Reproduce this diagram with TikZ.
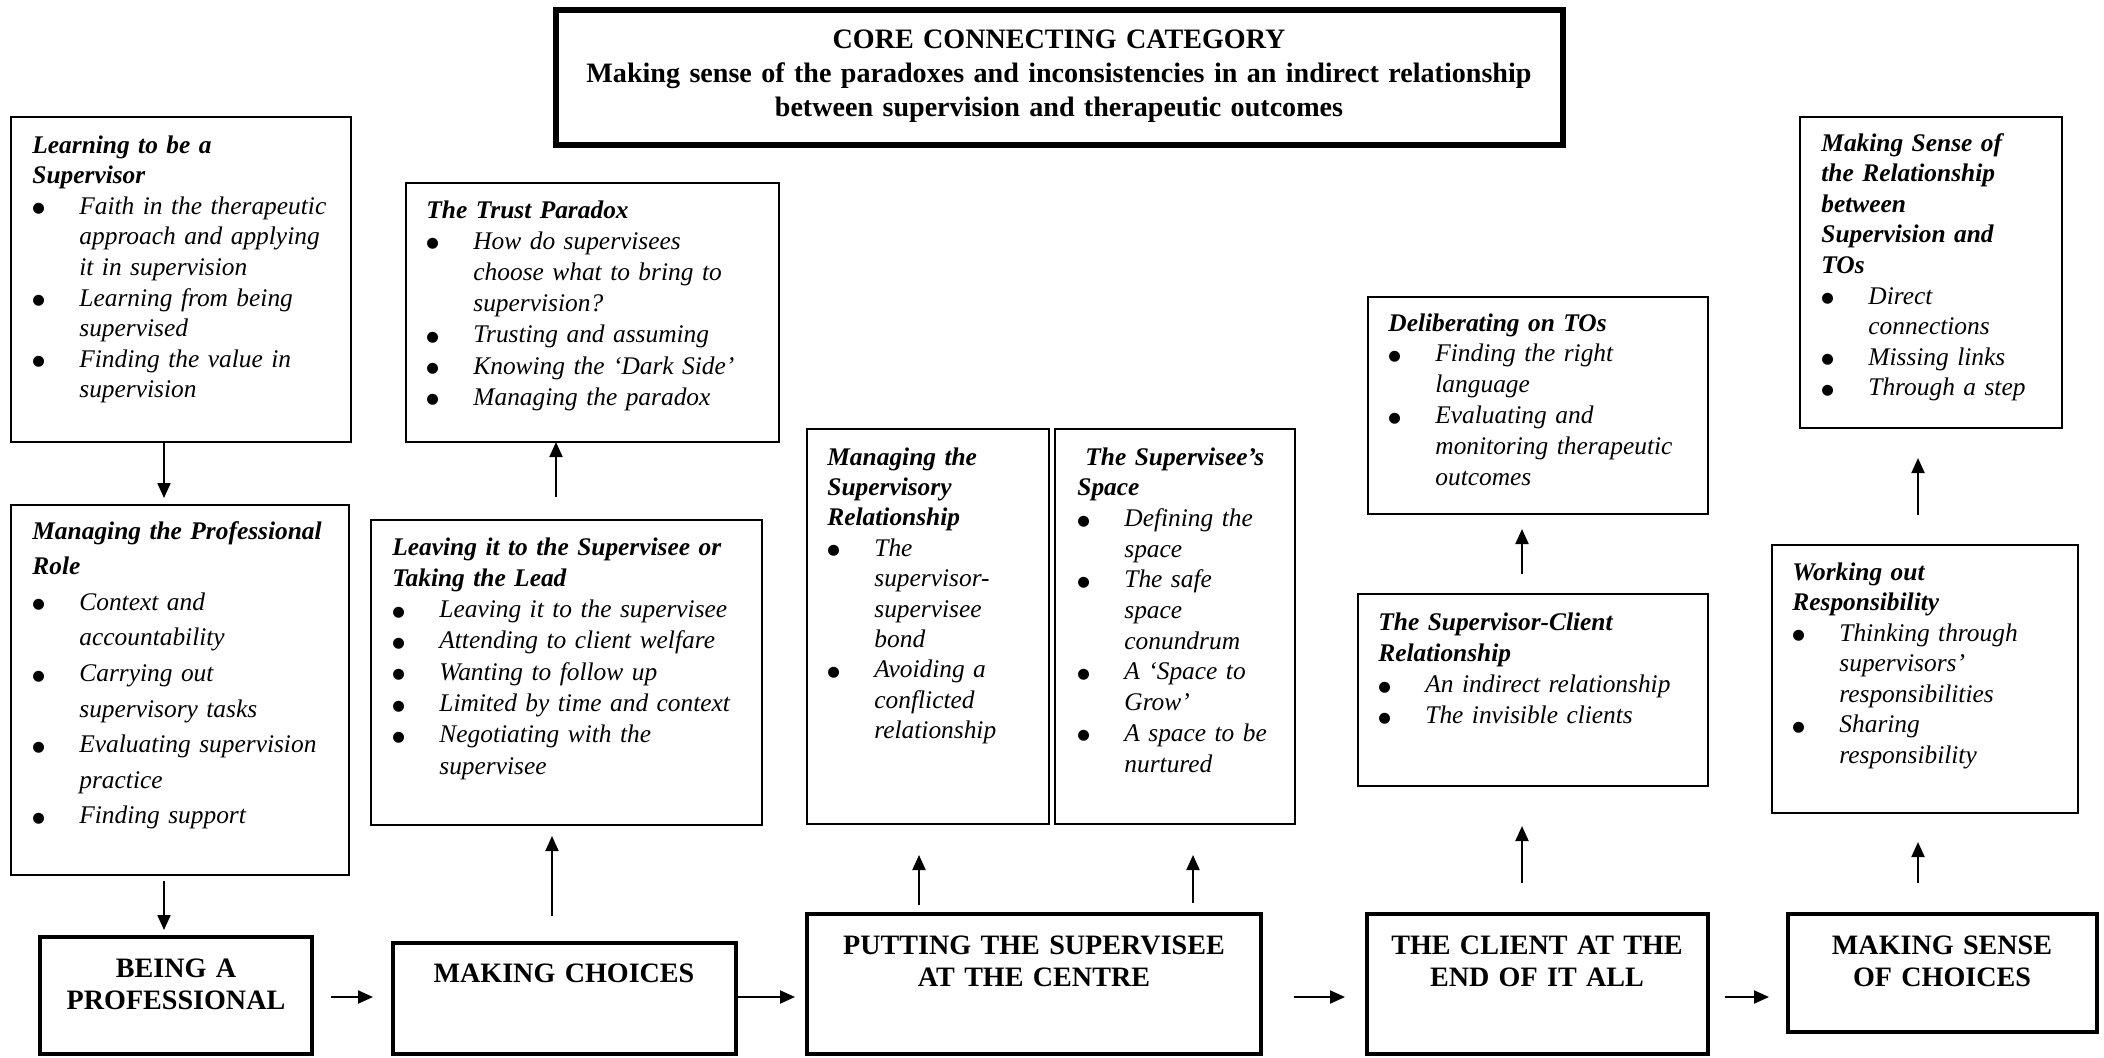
\documentclass[tikz,border=0pt]{standalone}
\usepackage{fontspec}
\setmainfont{Liberation Serif}
\newfontfamily\dotfont{DejaVu Sans}
\usetikzlibrary{arrows.meta}

% bullet and continuation indents for list lines
\newcommand\bl{\makebox[23.5pt][l]{\raisebox{0.7pt}{\dotfont\upshape\fontsize{7.2}{8}\selectfont ●}}}
\newcommand\cl{\hspace*{23.5pt}}
\newcommand\hd[1]{\textbf{#1}}
% box node from corner coordinates (in px units)
\newcommand\mybox[6]{%
  \node[#6, minimum width={(#4-#2)*0.5pt}, minimum height={(#5-#3)*0.5pt}]
    (#1) at ({(#2+#4)/2},{(#3+#5)/2}) {};}

\begin{document}
\begin{tikzpicture}[x=0.5pt,y=-0.5pt,
  thinbox/.style={draw, line width=0.8pt, rectangle, inner sep=0pt, outer sep=0pt},
  thickbox/.style={draw, line width=1.9pt, rectangle, inner sep=0pt, outer sep=0pt},
  corebox/.style={draw, line width=2.8pt, rectangle, inner sep=0pt, outer sep=0pt},
  listtext/.style={anchor=base west, inner sep=0pt, align=left},
  captext/.style={anchor=base, inner sep=0pt, align=center,
    font=\fontsize{14.05}{16}\selectfont\bfseries},
  arr/.style={line width=1pt, -{Triangle[length=7.5pt,width=6.5pt]}}]

\useasboundingbox (0,0) rectangle (2104,1057);

% ---------- core category ----------
\mybox{core}{556}{10}{1563}{145}{corebox}
\node[anchor=base, inner sep=0pt, text width=490pt, align=center,
  font=\fontsize{14.05}{17.2}\selectfont\bfseries] (core-t) at (1059,48)
  {CORE CONNECTING CATEGORY\\
   Making sense of the paradoxes and inconsistencies in an indirect relationship\\
   between supervision and therapeutic outcomes};

% ---------- main categories ----------
\mybox{being}{40}{937}{312}{1054}{thickbox}
\mybox{making}{393}{943}{736}{1054}{thickbox}
\mybox{putting}{807}{914}{1261}{1054}{thickbox}
\mybox{client}{1367}{914}{1708}{1054}{thickbox}
\mybox{msense}{1788}{914}{2097}{1032}{thickbox}

\node[captext, text width=130pt] (being-t) at (176,977) {BEING A\\PROFESSIONAL};
\node[captext, text width=165pt] (making-t) at (564,982) {MAKING CHOICES};
\node[captext, text width=220pt, font=\fontsize{14.05}{16.3}\selectfont\bfseries]
  (putting-t) at (1034,954) {PUTTING THE SUPERVISEE\\AT THE CENTRE};
\node[captext, text width=165pt] (client-t) at (1537,954) {THE CLIENT AT THE\\END OF IT ALL};
\node[captext, text width=150pt] (msense-t) at (1942,954) {MAKING SENSE\\OF CHOICES};

% ---------- sub-category boxes ----------
\mybox{learn}{11}{117}{351}{442}{thinbox}
\mybox{trust}{406}{183}{779}{442}{thinbox}
\mybox{mpr}{11}{505}{349}{875}{thinbox}
\mybox{leave}{371}{520}{762}{825}{thinbox}
\mybox{msr}{807}{429}{1049}{824}{thinbox}
\mybox{ss}{1055}{429}{1295}{824}{thinbox}
\mybox{delib}{1368}{297}{1708}{514}{thinbox}
\mybox{sc}{1358}{594}{1708}{786}{thinbox}
\mybox{msrel}{1800}{117}{2062}{428}{thinbox}
\mybox{wo}{1772}{545}{2078}{813}{thinbox}

\node[listtext, text width=156pt, font=\fontsize{12.7}{15.3}\selectfont\itshape]
  (learn-t) at (32,153)
  {\hd{Learning to be a}\\
   \hd{Supervisor}\\
   \bl Faith in the therapeutic\\
   \cl approach and applying\\
   \cl it in supervision\\
   \bl Learning from being\\
   \cl supervised\\
   \bl Finding the value in\\
   \cl supervision};

\node[listtext, text width=173pt, font=\fontsize{12.7}{15.6}\selectfont\itshape]
  (trust-t) at (426,218)
  {\hd{The Trust Paradox}\\
   \bl How do supervisees\\
   \cl choose what to bring to\\
   \cl supervision?\\
   \bl Trusting and assuming\\
   \bl Knowing the ‘Dark Side’\\
   \bl Managing the paradox};

\node[listtext, text width=155pt, font=\fontsize{12.7}{17.8}\selectfont\itshape]
  (mpr-t) at (32,539)
  {\hd{Managing the Professional}\\
   \hd{Role}\\
   \bl Context and\\
   \cl accountability\\
   \bl Carrying out\\
   \cl supervisory tasks\\
   \bl Evaluating supervision\\
   \cl practice\\
   \bl Finding support};

\node[listtext, text width=182pt, font=\fontsize{12.7}{15.65}\selectfont\itshape]
  (leave-t) at (392,555)
  {\hd{Leaving it to the Supervisee or}\\
   \hd{Taking the Lead}\\
   \bl Leaving it to the supervisee\\
   \bl Attending to client welfare\\
   \bl Wanting to follow up\\
   \bl Limited by time and context\\
   \bl Negotiating with the\\
   \cl supervisee};

\node[listtext, text width=108pt, font=\fontsize{12.7}{15.2}\selectfont\itshape]
  (msr-t) at (827,465)
  {\hd{Managing the}\\
   \hd{Supervisory}\\
   \hd{Relationship}\\
   \bl The\\
   \cl supervisor-\\
   \cl supervisee\\
   \cl bond\\
   \bl Avoiding a\\
   \cl conflicted\\
   \cl relationship};

\node[listtext, text width=106pt, font=\fontsize{12.7}{15.35}\selectfont\itshape]
  (ss-t) at (1077,465)
  {\hspace*{4pt}\hd{The Supervisee’s}\\
   \hd{Space}\\
   \bl Defining the\\
   \cl space\\
   \bl The safe\\
   \cl space\\
   \cl conundrum\\
   \bl A ‘Space to\\
   \cl Grow’\\
   \bl A space to be\\
   \cl nurtured};

\node[listtext, text width=157pt, font=\fontsize{12.7}{15.4}\selectfont\itshape]
  (delib-t) at (1388,331)
  {\hd{Deliberating on TOs}\\
   \bl Finding the right\\
   \cl language\\
   \bl Evaluating and\\
   \cl monitoring therapeutic\\
   \cl outcomes};

\node[listtext, text width=162pt, font=\fontsize{12.7}{15.65}\selectfont\itshape]
  (sc-t) at (1378,630)
  {\hd{The Supervisor-Client}\\
   \hd{Relationship}\\
   \bl An indirect relationship\\
   \bl The invisible clients};

\node[listtext, text width=117pt, font=\fontsize{12.7}{15.3}\selectfont\itshape]
  (msrel-t) at (1821,151)
  {\hd{Making Sense of}\\
   \hd{the Relationship}\\
   \hd{between}\\
   \hd{Supervision and}\\
   \hd{TOs}\\
   \bl Direct\\
   \cl connections\\
   \bl Missing links\\
   \bl Through a step};

\node[listtext, text width=140pt, font=\fontsize{12.7}{15.25}\selectfont\itshape]
  (wo-t) at (1792,580)
  {\hd{Working out}\\
   \hd{Responsibility}\\
   \bl Thinking through\\
   \cl supervisors’\\
   \cl responsibilities\\
   \bl Sharing\\
   \cl responsibility};

% ---------- connector columns and rows ----------
\coordinate (xa) at (164,0);
\coordinate (xb) at (552,0);
\coordinate (xc) at (556,0);
\coordinate (xd) at (919,0);
\coordinate (xe) at (1193,0);
\coordinate (xf) at (1522,0);
\coordinate (xg) at (1918,0);
\coordinate (yr) at (0,997);

% left column: learning -> role -> being a professional
\draw[arr, shorten >=3.5pt] (learn.south -| xa) -- (mpr.north -| xa);
\draw[arr, shorten <=3pt, shorten >=3.5pt] (mpr.south -| xa) -- (being.north -| xa);

% main sequence along the bottom
\draw[arr, shorten <=9.5pt, shorten >=10pt] (being.east |- yr) -- (making.west |- yr);
\draw[arr, shorten >=6pt] (making.east |- yr) -- (putting.west |- yr);
\draw[arr, shorten <=16.5pt, shorten >=11pt] (putting.east |- yr) -- (client.west |- yr);
\draw[arr, shorten <=8.5pt, shorten >=9.5pt] (client.east |- yr) -- (msense.west |- yr);

% upward links from the main categories
\draw[arr, shorten <=13.5pt, shorten >=5.5pt] (making.north -| xb) -- (leave.south -| xb);
\draw[arr, shorten <=11.5pt] (leave.north -| xc) -- (trust.south -| xc);
\draw[arr, shorten <=4.5pt, shorten >=15.5pt] (putting.north -| xd) -- (msr.south -| xd);
\draw[arr, shorten <=5.5pt, shorten >=15.5pt] (putting.north -| xe) -- (ss.south -| xe);
\draw[arr, shorten <=15.5pt, shorten >=20pt] (client.north -| xf) -- (sc.south -| xf);
\draw[arr, shorten <=10pt, shorten >=7.5pt] (sc.north -| xf) -- (delib.south -| xf);
\draw[arr, shorten <=15.5pt, shorten >=14.5pt] (msense.north -| xg) -- (wo.south -| xg);
\draw[arr, shorten <=15pt, shorten >=15pt] (wo.north -| xg) -- (msrel.south -| xg);

\end{tikzpicture}
\end{document}
